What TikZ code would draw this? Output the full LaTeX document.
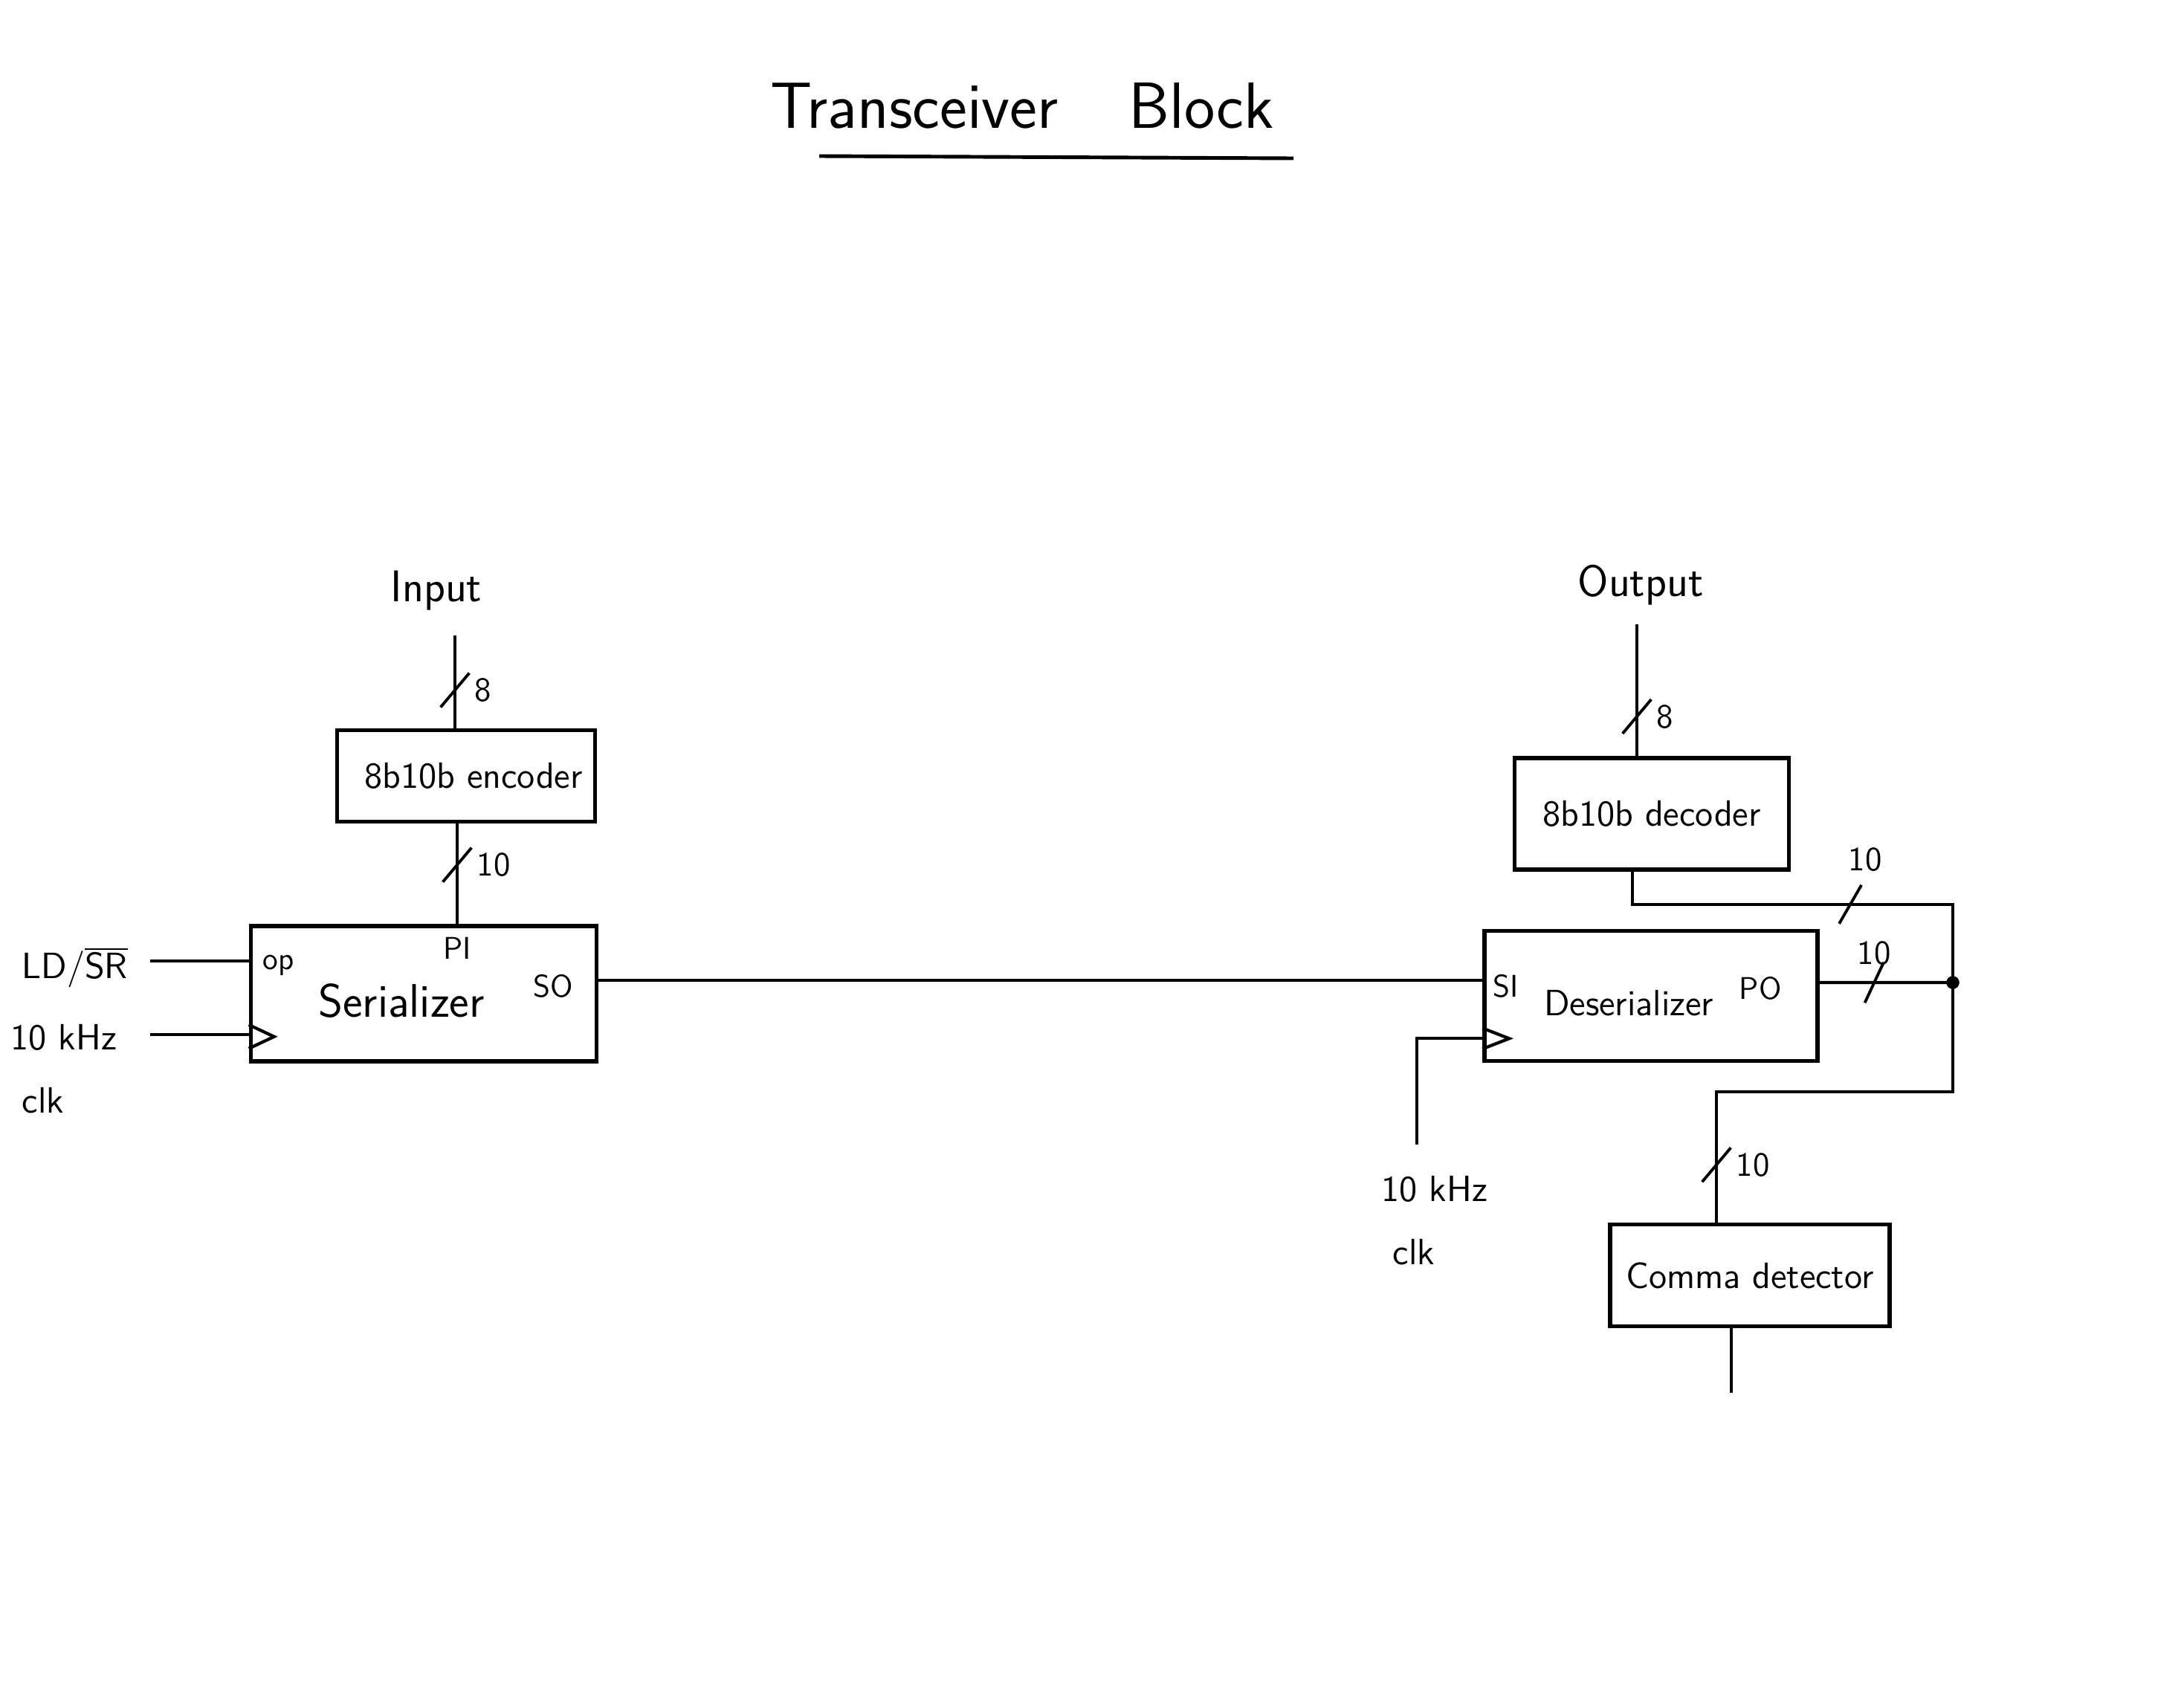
\documentclass[tikz,border=0pt]{standalone}
\usetikzlibrary{positioning}
\begin{document}
\begin{tikzpicture}[
    every node/.style={font=\sffamily\fontsize{14}{16}\selectfont},
    blk/.style={draw, line width=1.6pt, inner sep=2pt},
    wire/.style={line width=1.2pt},
    busmark/.style={draw, line width=1.1pt, minimum width=0.6cm, minimum height=0pt, inner sep=0pt, rotate=#1},
    busmark/.default=50,
    bus/.style={font=\sffamily\fontsize{13}{15}\selectfont, inner sep=1pt},
    pin/.style={font=\sffamily\fontsize{12}{14}\selectfont, inner sep=1pt},
    ttl/.style={font=\sffamily\fontsize{25}{30}\selectfont},
    io/.style={font=\sffamily\fontsize{17}{20}\selectfont},
    clklbl/.style={align=left, font=\sffamily\fontsize{14}{24}\selectfont, inner sep=0pt},
]
\useasboundingbox (0,0) rectangle (29.38,-22.86);

% title
\node[ttl] (title) at (13.75,-1.42) {Transceiver\hspace{0.95cm}Block};
\draw[line width=1.4pt] (11.02,-2.10) -- (17.40,-2.13);

% transmitter side
\node[io] (input) at (5.87,-7.95) {Input};
\coordinate (inend) at (6.12,-8.55);
\node[blk, minimum width=3.47cm, minimum height=1.23cm] (enc) at (6.27,-10.44) {\hspace*{2mm}8b10b encoder};
\node[blk, minimum width=4.65cm, minimum height=1.82cm,
      label={[font=\sffamily\fontsize{18}{20}\selectfont, xshift=-3mm, yshift=-1mm]center:Serializer}] (ser) at (5.70,-13.37) {};
\draw[wire] (inend) -- node[pos=.59, busmark] {} node[pos=.59, bus, right=6pt] {8} (inend |- enc.north);
\draw[wire] ([xshift=-1.2mm]enc.south) -- node[pos=.41, busmark] {} node[pos=.41, bus, right=6pt] {10} ([xshift=-1.2mm]enc.south |- ser.north);
\node[pin, below=4pt] (pi) at ([xshift=-1.2mm]enc.south |- ser.north) {PI};

\node[anchor=west] (ldsr) at (0.17,-13.02) {LD/\ensuremath{\overline{\mbox{SR}}}};
\node[clklbl, anchor=north west] (clka) at (0.14,-13.78) {10 kHz\\\hspace{1.5mm}clk};
\coordinate (ldin) at (2.02,-12.93);
\coordinate (clkin) at (2.02,-13.92);
\draw[wire] (ldin) -- (ldin -| ser.west);
\draw[wire] (clkin) -- (clkin -| ser.west);
\draw[wire] ([yshift=2mm]ser.south west) -- ++(0.34,0.16) -- ++(-0.34,0.16);
\node[pin, anchor=west] (op) at ([xshift=1.5mm, yshift=-0.6mm]ser.west |- ldin) {op};
\node[pin, anchor=east] (so) at ([xshift=-3mm, yshift=1mm]ser.east) {SO};

% receiver side
\node[blk, minimum width=4.48cm, minimum height=1.75cm,
      label={[xshift=-3mm, yshift=-1mm]center:Deserializer}] (des) at (22.21,-13.40) {};
\node[blk, minimum width=3.69cm, minimum height=1.50cm] (dec) at (22.22,-10.95) {8b10b decoder};
\node[blk, minimum width=3.76cm, minimum height=1.37cm] (cd) at (23.54,-17.16) {Comma detector};
\node[pin, anchor=west] (si) at ([xshift=1mm, yshift=1.3mm]des.west) {SI};
\node[pin, anchor=east] (po) at ([xshift=-4.7mm, yshift=1mm]des.east) {PO};

% serial link
\draw[wire] ([yshift=1.8mm]ser.east) -- ([yshift=1.8mm]ser.east -| des.west);

\node[io] (output) at (22.07,-7.87) {Output};
\coordinate (outend) at (22.02,-8.40);
\draw[wire] (outend) -- node[pos=.70, busmark] {} node[pos=.70, bus, right=6pt] {8} (outend |- dec.north);

\coordinate (clkd) at (19.06,-15.40);
\draw[wire] ([yshift=1.9mm]des.south west) -- ++(0.36,0.14) -- ++(-0.36,0.14);
\draw[wire] (clkd) |- ([yshift=3.3mm]des.south west);
\node[clklbl, anchor=north west] (clkb) at (18.58,-15.82) {10 kHz\\\hspace{1.5mm}clk};

\coordinate (jn) at (26.27,-13.22);
\draw[wire] ([yshift=1.8mm]des.east) -- node[pos=.41, busmark=65] {} node[pos=.41, bus, above=5pt] {10} (jn);
\fill (jn) circle (2.5pt);
\draw[wire] (jn) |- node[pos=.66, busmark=60] {} node[pos=.66, bus, above=11pt, xshift=2mm] {10} ([xshift=-2.6mm, yshift=-4.4mm]dec.south) -- ([xshift=-2.6mm]dec.south);
\draw[wire] (jn) |- ([xshift=-4.5mm, yshift=1.76cm]cd.north) -- node[pos=.56, busmark] {} node[pos=.56, bus, right=6pt] {10} ([xshift=-4.5mm]cd.north);

\coordinate (cdout) at (23.29,-18.74);
\draw[wire] (cdout |- cd.south) -- (cdout);
\end{tikzpicture}
\end{document}
